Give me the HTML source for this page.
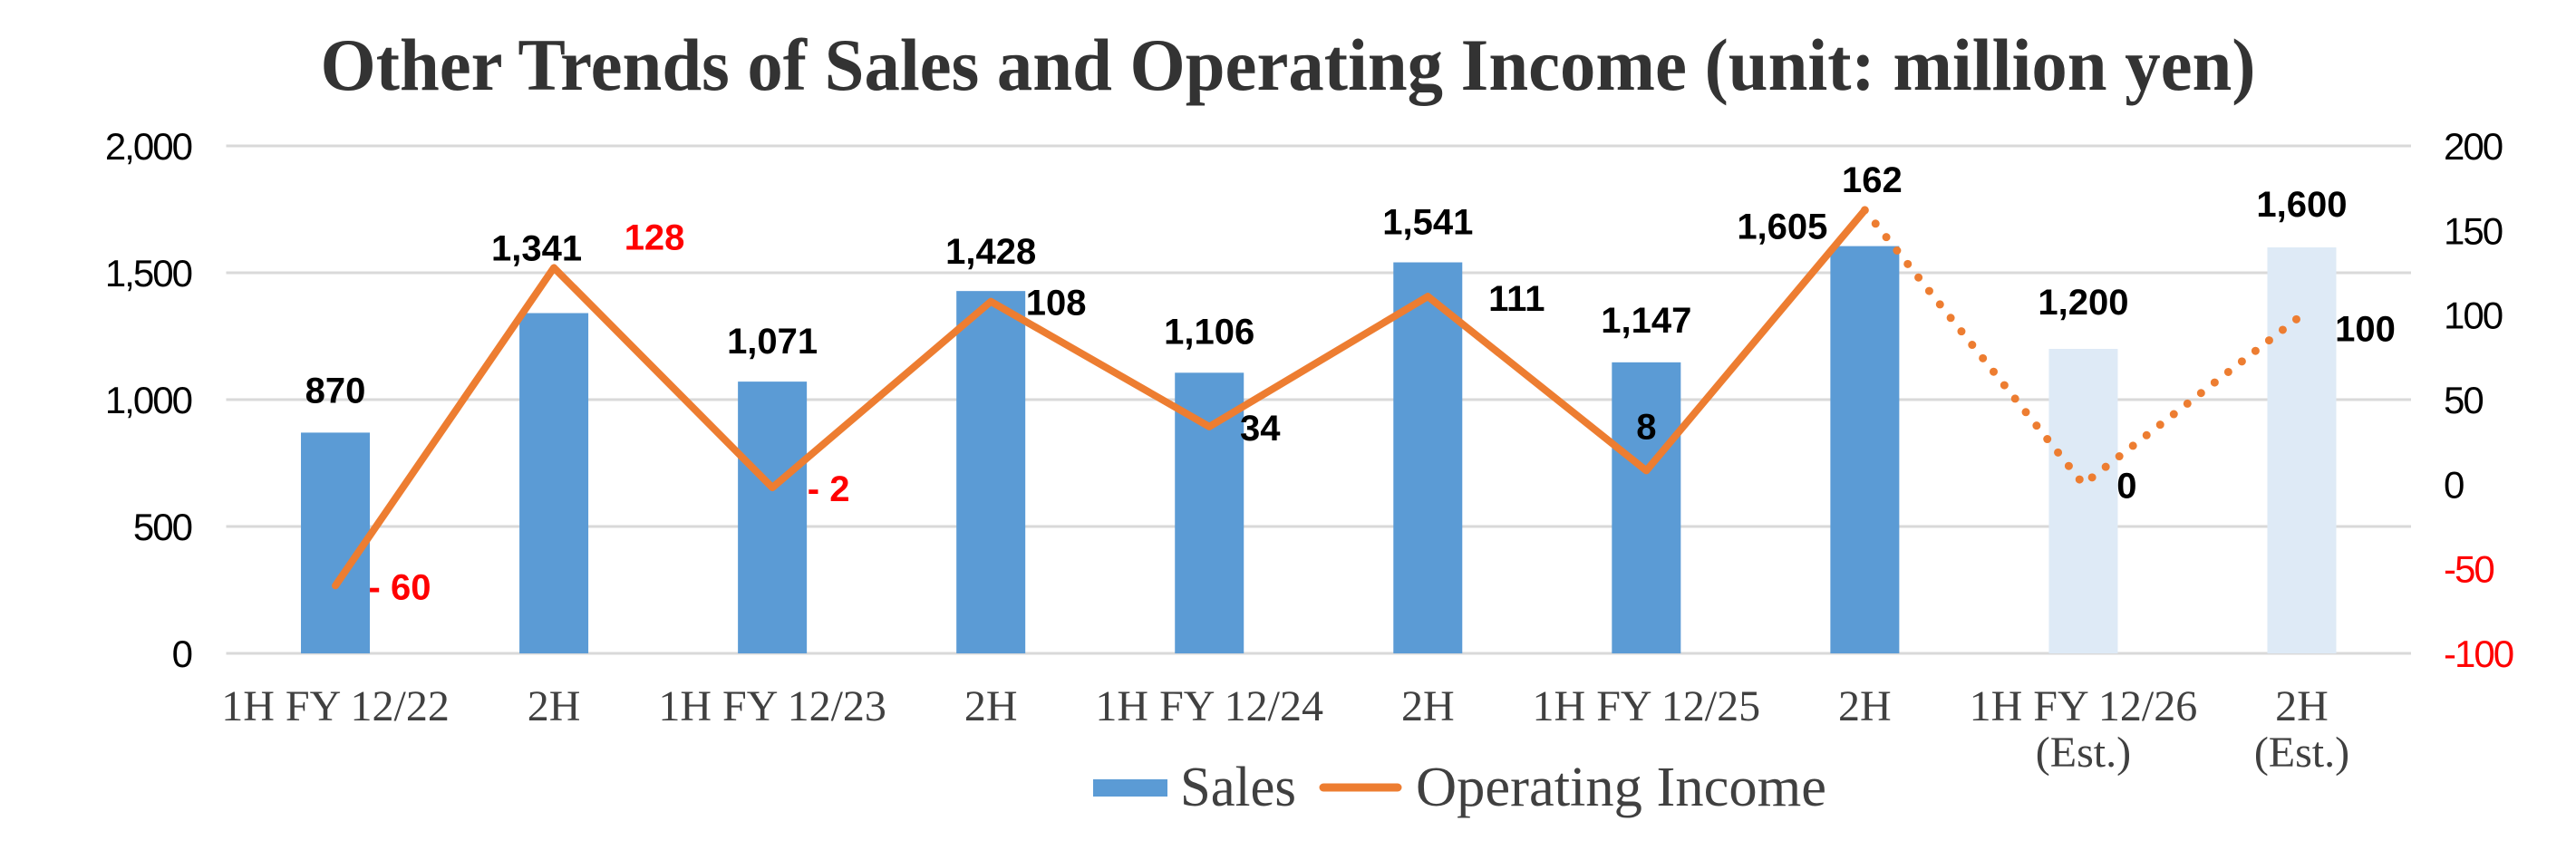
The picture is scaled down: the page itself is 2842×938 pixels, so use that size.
<!DOCTYPE html>
<html><head><meta charset="utf-8"><style>
html,body{margin:0;padding:0;background:#fff;}
svg{display:block;}
</style></head><body>
<svg id="chart" width="2842" height="938" viewBox="0 0 2842 938" xmlns="http://www.w3.org/2000/svg">
<text x="1421" y="99" text-anchor="middle" font-family="Liberation Serif, serif" font-weight="bold" font-size="82" fill="#333333" textLength="2135" lengthAdjust="spacingAndGlyphs">Other Trends of Sales and Operating Income (unit: million yen)</text>
<g id="grid"></g><g id="bars"></g><g id="line"></g><g id="labels"></g><g id="axes"></g>
<g>
<rect x="1206" y="860" width="82" height="19" fill="#5B9BD5"/>
<text x="1302" y="889" font-family="Liberation Serif, serif" font-size="62" fill="#404040" textLength="128" lengthAdjust="spacingAndGlyphs">Sales</text>
<line x1="1460" y1="869" x2="1542" y2="869" stroke="#ED7D31" stroke-width="9" stroke-linecap="round"/>
<text x="1562" y="889" font-family="Liberation Serif, serif" font-size="62" fill="#404040" textLength="453" lengthAdjust="spacingAndGlyphs">Operating Income</text>
</g>
</svg>
<script>
const categories=["1H FY 12/22","2H","1H FY 12/23","2H","1H FY 12/24","2H","1H FY 12/25","2H","1H FY 12/26","2H"];
const subLabels=["","","","","","","","","(Est.)","(Est.)"];
const sales=[870,1341,1071,1428,1106,1541,1147,1605,1200,1600];
const income=[-60,128,-2,108,34,111,8,162,0,100];
const estimate=[false,false,false,false,false,false,false,false,true,true];
const leftTicks=[0,500,1000,1500,2000];
const rightTicks=[-100,-50,0,50,100,150,200];
const salesLabelDx=[0,-19,0,0,0,0,0,-91,0,0];
const salesLabelDy=[-33,-58,-31,-30,-32,-31,-33,-8,-38,-34];
const incLabelDx=[71,111,62,72,56,98,0,8,48,70];
const incLabelDy=[15,-20,15,15,15,16,-35,-20,15,29];

const NS="http://www.w3.org/2000/svg";
const L=249.5,R=2660,T=161,B=721;
const band=(R-L)/categories.length;
const xc=i=>L+(i+0.5)*band;
const ys=v=>B-(v-0)/(2000-0)*(B-T);
const yr=v=>B-(v+100)/(300)*(B-T);
function mk(tag,attrs,parent){const e=document.createElementNS(NS,tag);for(const k in attrs)e.setAttribute(k,attrs[k]);parent.appendChild(e);return e;}
const grid=document.getElementById('grid'),bars=document.getElementById('bars'),line=document.getElementById('line'),labels=document.getElementById('labels'),axes=document.getElementById('axes');

leftTicks.forEach(t=>{
 const g=mk('line',{x1:L,x2:R,y1:ys(t),y2:ys(t),stroke:'#D9D9D9','stroke-width':3},grid);
 
 
 const tx=mk('text',{x:211,y:ys(t)+15,'text-anchor':'end','font-family':'Liberation Sans, sans-serif','font-size':42,fill:'#000','letter-spacing':'-2'},axes);
 tx.textContent=t.toLocaleString('en-US');
 
 
});
rightTicks.forEach(t=>{
 const tx=mk('text',{x:2696,y:yr(t)+15,'font-family':'Liberation Sans, sans-serif','font-size':42,fill:t<0?'#FF0000':'#000','letter-spacing':'-2'},axes);
 tx.textContent=String(t);
 
 
});
categories.forEach((c,i)=>{
 const tx=mk('text',{x:xc(i),y:795,'text-anchor':'middle','font-family':'Liberation Serif, serif','font-size':48,fill:'#404040'},axes);
 tx.textContent=c;
 
 
 if(subLabels[i]){
  const s=mk('text',{x:xc(i),y:846,'text-anchor':'middle','font-family':'Liberation Serif, serif','font-size':48,fill:'#404040'},axes);
  s.textContent=subLabels[i];
  
  
 }
});
const bw=76;
sales.forEach((v,i)=>{
 const r=mk('rect',{x:xc(i)-bw/2,y:ys(v),width:bw,height:ys(0)-ys(v),fill:estimate[i]?'#DEEAF6':'#5B9BD5'},bars);
 
 
 const tx=mk('text',{x:xc(i)+salesLabelDx[i],y:ys(v)+salesLabelDy[i],'text-anchor':'middle','font-family':'Liberation Sans, sans-serif','font-weight':'bold','font-size':40,fill:'#000'},labels);
 tx.textContent=v.toLocaleString('en-US');
 
 
});
let solid='',dotted='';
income.forEach((v,i)=>{
 const p=xc(i)+','+yr(v);
 if(!estimate[i]) solid+=(solid?' L':'M')+p;
 if(i>=7) dotted+=(dotted?' L':'M')+p;
});
const sl=mk('path',{d:solid,fill:'none',stroke:'#ED7D31','stroke-width':8,'stroke-linejoin':'round','stroke-linecap':'round'},line);


const dl=mk('path',{d:dotted,fill:'none',stroke:'#ED7D31','stroke-width':9,'stroke-dasharray':'0 19','stroke-linecap':'round'},line);


income.forEach((v,i)=>{
 const tx=mk('text',{x:xc(i)+incLabelDx[i],y:yr(v)+incLabelDy[i],'text-anchor':'middle','font-family':'Liberation Sans, sans-serif','font-weight':'bold','font-size':40,fill:v<0||i===1?'#FF0000':'#000'},labels);
 tx.textContent=v<0?'- '+Math.abs(v):String(v);
 
 
});
</script>
</body></html>
